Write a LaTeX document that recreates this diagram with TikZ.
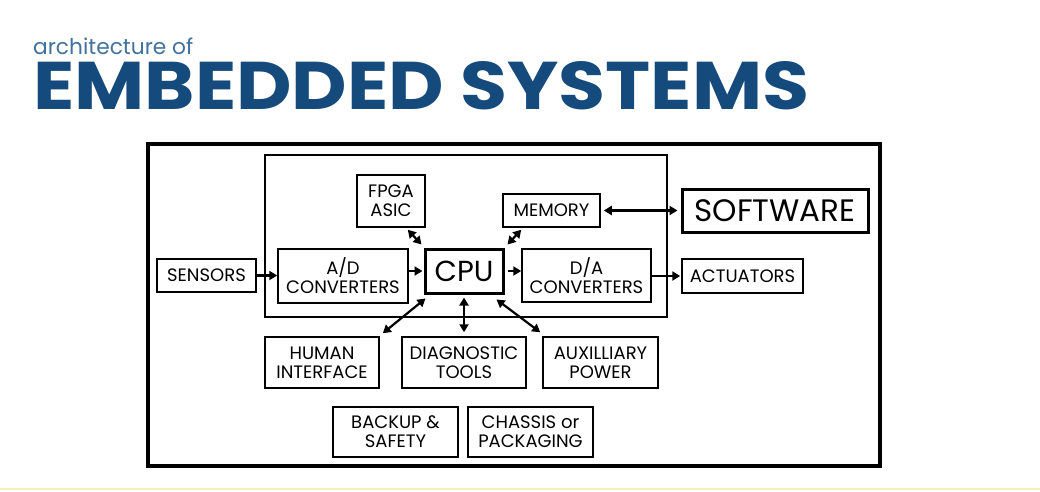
\documentclass[tikz,border=0pt]{standalone}
\usepackage{fontspec}
\setmainfont{Poppins}
\usetikzlibrary{arrows.meta}
\definecolor{titleblue}{HTML}{154A7C}
\definecolor{subblue}{HTML}{43729E}
\definecolor{lineyellow}{HTML}{F6F0B4}
\tikzset{
  box/.style={draw=black, line width=1.5pt, inner sep=0pt, align=center, font=\fontsize{18}{19}\selectfont},
  thickbox/.style={box, line width=3pt},
  conn/.style={line width=2.2pt, -{Triangle[length=8pt,width=9pt]}},
  biconn/.style={line width=2.2pt, {Triangle[length=8pt,width=9pt]}-{Triangle[length=8pt,width=9pt]}},
}
\begin{document}
\begin{tikzpicture}[x=1pt,y=-1pt]
\useasboundingbox (0,0) rectangle (1040,491);
\fill[white] (0,0) rectangle (1040,491);
\draw[lineyellow, line width=2pt] (0,489) -- (1040,489);
% titles
\node[anchor=base west, inner sep=0pt, text=subblue] (sub) at (33,54) {\resizebox{160pt}{!}{architecture of}};
\node[anchor=south west, inner sep=0pt, text=titleblue] (title) at (33,110) {\resizebox{776pt}{48pt}{\bfseries EMBEDDED SYSTEMS}};
% frames
\node[draw, line width=4pt, minimum width=732pt, minimum height=322pt, inner sep=0pt] (outer) at (514,305) {};
\node[draw, line width=1.5pt, minimum width=402pt, minimum height=162pt, inner sep=0pt] (inner) at (466,236) {};
% boxes
\node[box, minimum width=68pt, minimum height=52pt] (fpga) at (391,201) {FPGA\\ASIC};
\node[box, minimum width=97pt, minimum height=33pt] (mem) at (551.5,210.5) {MEMORY};
\node[thickbox, minimum width=186pt, minimum height=43pt, font=\fontsize{31}{34}\selectfont] (soft) at (775,210.5) {SOFTWARE};
\node[box, minimum width=130pt, minimum height=54pt] (ad) at (343,276) {A/D\\CONVERTERS};
\node[thickbox, minimum width=78pt, minimum height=44pt, font=\fontsize{29}{32}\selectfont] (cpu) at (464,271) {CPU};
\node[box, minimum width=129pt, minimum height=53pt] (da) at (586.5,275.5) {D/A\\CONVERTERS};
\node[box, minimum width=99pt, minimum height=33pt] (sens) at (206.5,275.5) {SENSORS};
\node[box, minimum width=121pt, minimum height=34pt] (act) at (742.5,276) {ACTUATORS};
\node[box, minimum width=114pt, minimum height=51pt] (human) at (322,362.5) {HUMAN\\INTERFACE};
\node[box, minimum width=124pt, minimum height=51pt] (diag) at (464,362.5) {DIAGNOSTIC\\TOOLS};
\node[box, minimum width=115pt, minimum height=51pt] (aux) at (600.5,362.5) {AUXILLIARY\\POWER};
\node[box, minimum width=125pt, minimum height=50pt] (backup) at (395.5,432) {BACKUP \&\\SAFETY};
\node[box, minimum width=125pt, minimum height=50pt] (chassis) at (530.5,432) {CHASSIS or\\PACKAGING};
% connectors
\draw[conn] (sens.east) -- (sens.east -| ad.west);
\draw[conn] (ad.east |- cpu.west) -- ([xshift=-1pt]cpu.west);
\draw[conn] ([xshift=3pt]cpu.east) -- (cpu.east -| da.west);
\draw[conn] (da.east |- act.west) -- ([xshift=-1pt]act.west);
\draw[biconn] ([xshift=3pt]mem.east) -- ([xshift=-3pt]soft.west);
\draw[biconn] ([xshift=-18pt,yshift=-2pt]fpga.south east) -- ([xshift=-2pt,yshift=3pt]cpu.north west);
\draw[biconn] ([xshift=19pt,yshift=-2pt]mem.south west) -- ([xshift=3pt,yshift=3pt]cpu.north east);
\draw[biconn] ([xshift=2pt,yshift=-4pt]cpu.south west) -- ([xshift=3pt,yshift=3pt]human.north east);
\draw[biconn] ([yshift=-3pt]cpu.south) -- ([yshift=4pt]diag.north);
\draw[biconn] ([xshift=-8pt,yshift=-5pt]cpu.south east) -- ([xshift=-2pt,yshift=4pt]aux.north west);
\end{tikzpicture}
\end{document}
